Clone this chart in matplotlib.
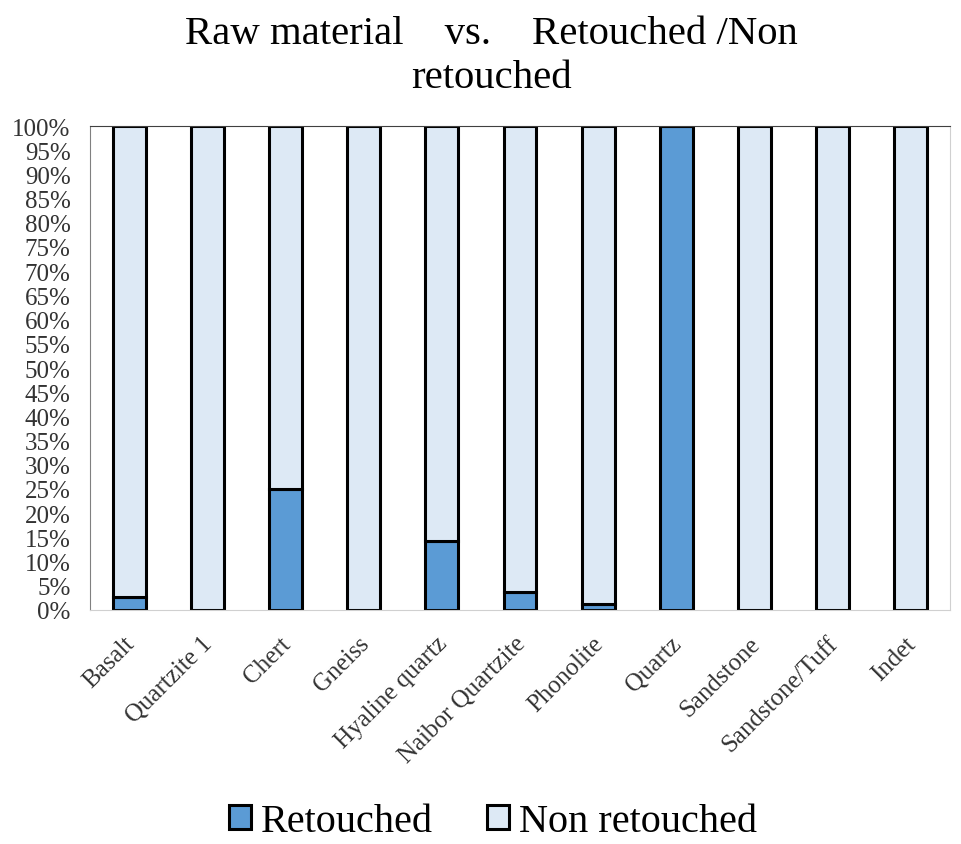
import matplotlib.pyplot as plt
import matplotlib.transforms as mtransforms
import numpy as np

materials = ['Basalt', 'Quartzite 1', 'Chert', 'Gneiss', 'Hyaline quartz',
             'Naibor Quartzite', 'Phonolite', 'Quartz', 'Sandstone',
             'Sandstone/Tuff', 'Indet']
retouched = [2.7, 0, 25.0, 0, 14.3, 3.7, 1.2, 100.0, 0, 0, 0]
non_retouched = [100 - v for v in retouched]
pct_ticks = list(range(0, 101, 5))

plt.rcParams['font.family'] = ['Liberation Serif', 'DejaVu Serif']

fig = plt.figure(figsize=(9.62, 8.45), dpi=100)
ax = fig.add_axes([90 / 962, 1 - 611 / 845, 860 / 962, 484 / 845])

x = np.arange(len(materials))
ax.bar(x, retouched, width=0.42, color='#5b9bd5', edgecolor='black', linewidth=2.2,
       label='Retouched')
ax.bar(x, non_retouched, width=0.42, bottom=retouched, color='#dde9f5',
       edgecolor='black', linewidth=2.2, label='Non retouched')

ax.set_xlim(-0.5, len(materials) - 0.5)
ax.set_ylim(0, 100)
ax.set_yticks(pct_ticks)
ax.set_yticklabels([f'{t}%' for t in pct_ticks], fontsize=18, color='#333333')
ax.set_xticks(x)
ax.set_xticklabels(materials, rotation=45, ha='right', rotation_mode='anchor',
                   fontsize=18, color='#333333')
ax.tick_params(axis='y', length=0, pad=14)
ax.tick_params(axis='x', length=0, pad=16)
# nudge the slanted category names a little to the left
shift = mtransforms.ScaledTranslation(-6 / 100, 0, fig.dpi_scale_trans)
for lbl in ax.get_xticklabels():
    lbl.set_transform(lbl.get_transform() + shift)
for s in ax.spines.values():
    s.set_color('#d0d0d0')
ax.spines['top'].set_color('#404040')
ax.spines['left'].set_color('#808080')

cx = 0.5 + 10 / 962
fig.text(cx, 1 - 35 / 845, 'Raw material    vs.    Retouched /Non', ha='center',
         va='center', fontsize=29.3)
fig.text(cx, 1 - 79 / 845, 'retouched', ha='center', va='center', fontsize=29.3)

fig.legend(loc='center', bbox_to_anchor=(0.5 + 12 / 962, 1 - 823 / 845), ncol=2,
           frameon=False, fontsize=29, handlelength=0.55, handleheight=0.55,
           handletextpad=0.25, columnspacing=1.35, borderpad=0.1)

fig.savefig('out.png', dpi=100)
